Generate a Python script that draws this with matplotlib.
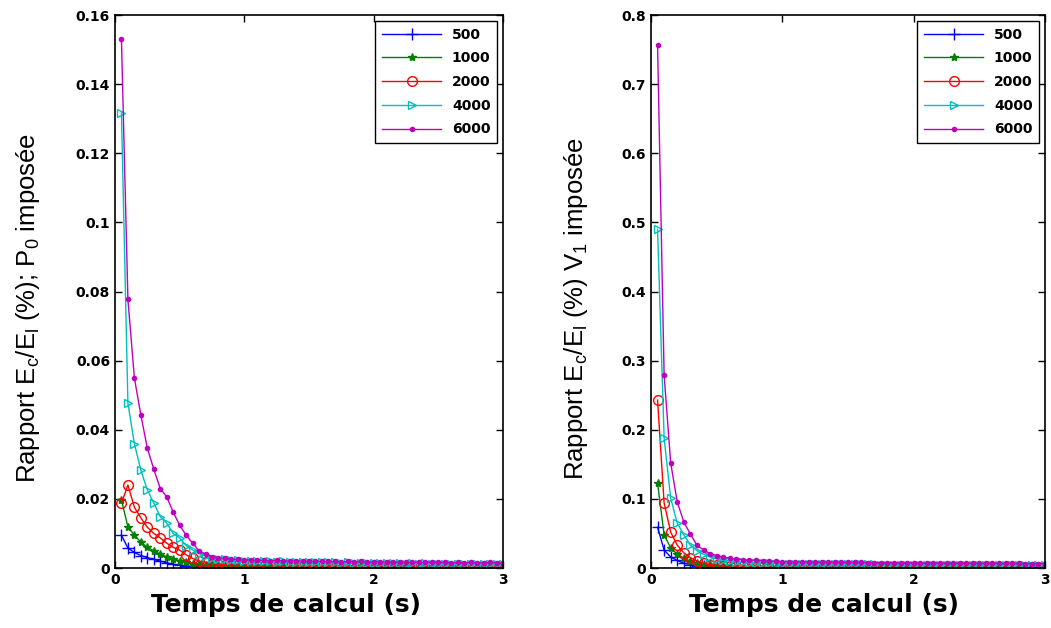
import matplotlib
import matplotlib.pyplot as plt
import numpy as np
from matplotlib.ticker import FuncFormatter

matplotlib.use("Agg")

# Sampling times (s)
temps = np.round(np.arange(1, 61) * 0.05, 2)

labels = ["500", "1000", "2000", "4000", "6000"]

# Left panel: P0 imposee
p0_500 = [
    0.0095, 0.0058, 0.0045, 0.0036, 0.0030, 0.0025, 0.0020, 0.0015, 0.0011, 0.0008,
    0.0006, 0.0005, 0.0004, 0.0004, 0.0003, 0.0003, 0.0003, 0.0003, 0.0003, 0.0003,
    0.0003, 0.0002, 0.0003, 0.0002, 0.0003, 0.0002, 0.0002, 0.0003, 0.0002, 0.0002,
    0.0002, 0.0002, 0.0002, 0.0002, 0.0002, 0.0002, 0.0002, 0.0002, 0.0002, 0.0002,
    0.0002, 0.0002, 0.0002, 0.0002, 0.0002, 0.0002, 0.0002, 0.0002, 0.0002, 0.0002,
    0.0002, 0.0002, 0.0002, 0.0002, 0.0002, 0.0002, 0.0002, 0.0002, 0.0002, 0.0002,
]
p0_1000 = [
    0.0197, 0.0119, 0.0095, 0.0075, 0.0060, 0.0050, 0.0040, 0.0033, 0.0027, 0.0021,
    0.0016, 0.0013, 0.0011, 0.0009, 0.0008, 0.0008, 0.0007, 0.0007, 0.0007, 0.0006,
    0.0007, 0.0006, 0.0006, 0.0007, 0.0006, 0.0006, 0.0006, 0.0005, 0.0006, 0.0006,
    0.0005, 0.0006, 0.0005, 0.0005, 0.0005, 0.0006, 0.0005, 0.0005, 0.0005, 0.0005,
    0.0004, 0.0005, 0.0005, 0.0004, 0.0005, 0.0004, 0.0004, 0.0005, 0.0004, 0.0004,
    0.0004, 0.0004, 0.0004, 0.0004, 0.0004, 0.0004, 0.0004, 0.0004, 0.0004, 0.0004,
]
p0_2000 = [
    0.0188, 0.0240, 0.0176, 0.0145, 0.0118, 0.0100, 0.0087, 0.0072, 0.0060, 0.0052,
    0.0038, 0.0028, 0.0020, 0.0016, 0.0013, 0.0011, 0.0010, 0.0009, 0.0008, 0.0008,
    0.0008, 0.0007, 0.0007, 0.0008, 0.0007, 0.0007, 0.0006, 0.0007, 0.0006, 0.0006,
    0.0006, 0.0006, 0.0005, 0.0006, 0.0005, 0.0005, 0.0005, 0.0005, 0.0005, 0.0005,
    0.0005, 0.0004, 0.0005, 0.0005, 0.0004, 0.0004, 0.0005, 0.0004, 0.0004, 0.0004,
    0.0004, 0.0004, 0.0004, 0.0004, 0.0004, 0.0004, 0.0004, 0.0004, 0.0004, 0.0004,
]
p0_4000 = [
    0.1317, 0.0477, 0.0360, 0.0283, 0.0226, 0.0188, 0.0149, 0.0130, 0.0100, 0.0087,
    0.0065, 0.0052, 0.0042, 0.0035, 0.0030, 0.0027, 0.0025, 0.0023, 0.0022, 0.0021,
    0.0020, 0.0021, 0.0019, 0.0020, 0.0018, 0.0019, 0.0018, 0.0017, 0.0018, 0.0017,
    0.0016, 0.0017, 0.0016, 0.0016, 0.0015, 0.0016, 0.0015, 0.0015, 0.0014, 0.0015,
    0.0014, 0.0014, 0.0015, 0.0014, 0.0013, 0.0014, 0.0013, 0.0014, 0.0013, 0.0013,
    0.0012, 0.0013, 0.0012, 0.0013, 0.0012, 0.0012, 0.0012, 0.0011, 0.0012, 0.0012,
]
p0_6000 = [
    0.1530, 0.0777, 0.0550, 0.0443, 0.0347, 0.0286, 0.0230, 0.0206, 0.0162, 0.0124,
    0.0095, 0.0072, 0.0050, 0.0040, 0.0033, 0.0030, 0.0028, 0.0026, 0.0025, 0.0023,
    0.0024, 0.0022, 0.0023, 0.0021, 0.0022, 0.0021, 0.0020, 0.0021, 0.0020, 0.0020,
    0.0019, 0.0020, 0.0019, 0.0019, 0.0018, 0.0019, 0.0018, 0.0019, 0.0018, 0.0017,
    0.0018, 0.0017, 0.0018, 0.0017, 0.0017, 0.0016, 0.0017, 0.0016, 0.0017, 0.0016,
    0.0016, 0.0015, 0.0016, 0.0015, 0.0016, 0.0015, 0.0015, 0.0016, 0.0015, 0.0015,
]

# Right panel: V1 imposee
v1_500 = [
    0.0590, 0.0260, 0.0160, 0.0110, 0.0070, 0.0050, 0.0035, 0.0025, 0.0020, 0.0015,
    0.0012, 0.0010, 0.0009, 0.0008, 0.0008, 0.0007, 0.0007, 0.0007, 0.0006, 0.0006,
    0.0006, 0.0006, 0.0006, 0.0006, 0.0005, 0.0006, 0.0005, 0.0005, 0.0005, 0.0005,
    0.0005, 0.0005, 0.0005, 0.0005, 0.0005, 0.0005, 0.0005, 0.0005, 0.0005, 0.0005,
    0.0005, 0.0005, 0.0005, 0.0005, 0.0005, 0.0005, 0.0005, 0.0005, 0.0005, 0.0005,
    0.0005, 0.0005, 0.0005, 0.0005, 0.0005, 0.0005, 0.0005, 0.0005, 0.0005, 0.0005,
]
v1_1000 = [
    0.1230, 0.0480, 0.0290, 0.0200, 0.0140, 0.0100, 0.0070, 0.0050, 0.0040, 0.0030,
    0.0026, 0.0023, 0.0021, 0.0020, 0.0019, 0.0018, 0.0018, 0.0017, 0.0017, 0.0016,
    0.0016, 0.0015, 0.0016, 0.0015, 0.0015, 0.0014, 0.0015, 0.0014, 0.0014, 0.0013,
    0.0014, 0.0013, 0.0013, 0.0013, 0.0012, 0.0013, 0.0012, 0.0012, 0.0012, 0.0011,
    0.0012, 0.0011, 0.0011, 0.0011, 0.0011, 0.0010, 0.0011, 0.0010, 0.0010, 0.0010,
    0.0010, 0.0010, 0.0010, 0.0010, 0.0010, 0.0010, 0.0010, 0.0010, 0.0010, 0.0010,
]
v1_2000 = [
    0.2430, 0.0940, 0.0520, 0.0330, 0.0220, 0.0150, 0.0100, 0.0070, 0.0050, 0.0040,
    0.0035, 0.0030, 0.0027, 0.0025, 0.0023, 0.0022, 0.0021, 0.0020, 0.0019, 0.0019,
    0.0018, 0.0018, 0.0017, 0.0017, 0.0016, 0.0016, 0.0016, 0.0015, 0.0015, 0.0015,
    0.0014, 0.0014, 0.0014, 0.0013, 0.0013, 0.0013, 0.0013, 0.0012, 0.0012, 0.0012,
    0.0012, 0.0012, 0.0011, 0.0011, 0.0011, 0.0011, 0.0011, 0.0011, 0.0010, 0.0010,
    0.0010, 0.0010, 0.0010, 0.0010, 0.0010, 0.0010, 0.0010, 0.0010, 0.0010, 0.0010,
]
v1_4000 = [
    0.4900, 0.1880, 0.1010, 0.0650, 0.0480, 0.0330, 0.0250, 0.0200, 0.0160, 0.0130,
    0.0110, 0.0100, 0.0090, 0.0080, 0.0075, 0.0070, 0.0068, 0.0066, 0.0065, 0.0064,
    0.0063, 0.0062, 0.0061, 0.0060, 0.0059, 0.0058, 0.0057, 0.0056, 0.0056, 0.0055,
    0.0054, 0.0053, 0.0053, 0.0052, 0.0051, 0.0051, 0.0050, 0.0050, 0.0049, 0.0049,
    0.0048, 0.0048, 0.0047, 0.0047, 0.0046, 0.0046, 0.0045, 0.0045, 0.0044, 0.0044,
    0.0044, 0.0043, 0.0043, 0.0042, 0.0042, 0.0042, 0.0041, 0.0041, 0.0041, 0.0040,
]
v1_6000 = [
    0.7570, 0.2790, 0.1520, 0.0955, 0.0666, 0.0490, 0.0330, 0.0260, 0.0210, 0.0180,
    0.0160, 0.0140, 0.0130, 0.0120, 0.0110, 0.0110, 0.0100, 0.0100, 0.0095, 0.0092,
    0.0090, 0.0089, 0.0088, 0.0087, 0.0086, 0.0085, 0.0084, 0.0083, 0.0082, 0.0081,
    0.0080, 0.0080, 0.0079, 0.0078, 0.0077, 0.0077, 0.0076, 0.0075, 0.0075, 0.0074,
    0.0073, 0.0073, 0.0072, 0.0072, 0.0071, 0.0071, 0.0070, 0.0070, 0.0069, 0.0069,
    0.0068, 0.0068, 0.0067, 0.0067, 0.0066, 0.0066, 0.0065, 0.0065, 0.0065, 0.0064,
]

colors = ["#0000ff", "#008000", "#ff0000", "#00bfbf", "#bf00bf"]
markers = ["+", "*", "o", ">", "."]
marker_sizes = [8, 6, 7, 6, 6]


def draw_panel(ax, series, ymax, yticks, ylabel, label_x):
    for vals, lab, col, mk, ms in zip(series, labels, colors, markers, marker_sizes):
        filled = mk in ("*", "+", ".")
        ax.plot(
            temps,
            vals,
            color=col,
            marker=mk,
            markersize=ms,
            markerfacecolor=col if filled else "none",
            markeredgecolor=col,
            markeredgewidth=1.0,
            linewidth=1.0,
            label=lab,
        )
    ax.set_xlim(0, 3)
    ax.set_ylim(0, ymax)
    ax.set_xticks([0, 1, 2, 3])
    ax.set_yticks(yticks)
    ax.yaxis.set_major_formatter(FuncFormatter(lambda v, p: f"{v:g}"))
    ax.tick_params(direction="in", top=True, right=True, length=5, width=1,
                   labelsize=10)
    for t in ax.get_xticklabels() + ax.get_yticklabels():
        t.set_fontweight("bold")
    for s in ax.spines.values():
        s.set_linewidth(1.2)
    ax.set_xlabel("Temps de calcul (s)", fontsize=18, fontweight="bold")
    ax.xaxis.set_label_coords(0.44, -0.045)
    ax.set_ylabel(ylabel, fontsize=18.5, family="Liberation Sans")
    ax.yaxis.set_label_coords(label_x, 0.47)
    leg = ax.legend(loc="upper right", prop={"weight": "bold", "size": 10},
                    fancybox=False, framealpha=1, edgecolor="black",
                    handlelength=4.2, borderpad=0.5, labelspacing=0.7,
                    borderaxespad=0.4)
    leg.get_frame().set_linewidth(1.0)


fig = plt.figure(figsize=(10.51, 6.28), dpi=100)
ax1 = fig.add_axes([0.1094, 0.0955, 0.3692, 0.8805])
ax2 = fig.add_axes([0.6194, 0.0955, 0.3749, 0.8805])

draw_panel(ax1, [p0_500, p0_1000, p0_2000, p0_4000, p0_6000], 0.16,
           [0, 0.02, 0.04, 0.06, 0.08, 0.1, 0.12, 0.14, 0.16],
           r"Rapport $\mathregular{E_c/E_l}$ (%); $\mathregular{P_0}$ imposée",
           -0.188)
draw_panel(ax2, [v1_500, v1_1000, v1_2000, v1_4000, v1_6000], 0.8,
           [0, 0.1, 0.2, 0.3, 0.4, 0.5, 0.6, 0.7, 0.8],
           r"Rapport $\mathregular{E_c/E_l}$ (%) $\mathregular{V_1}$ imposée",
           -0.155)

fig.savefig("out.png", dpi=100, facecolor="white")
